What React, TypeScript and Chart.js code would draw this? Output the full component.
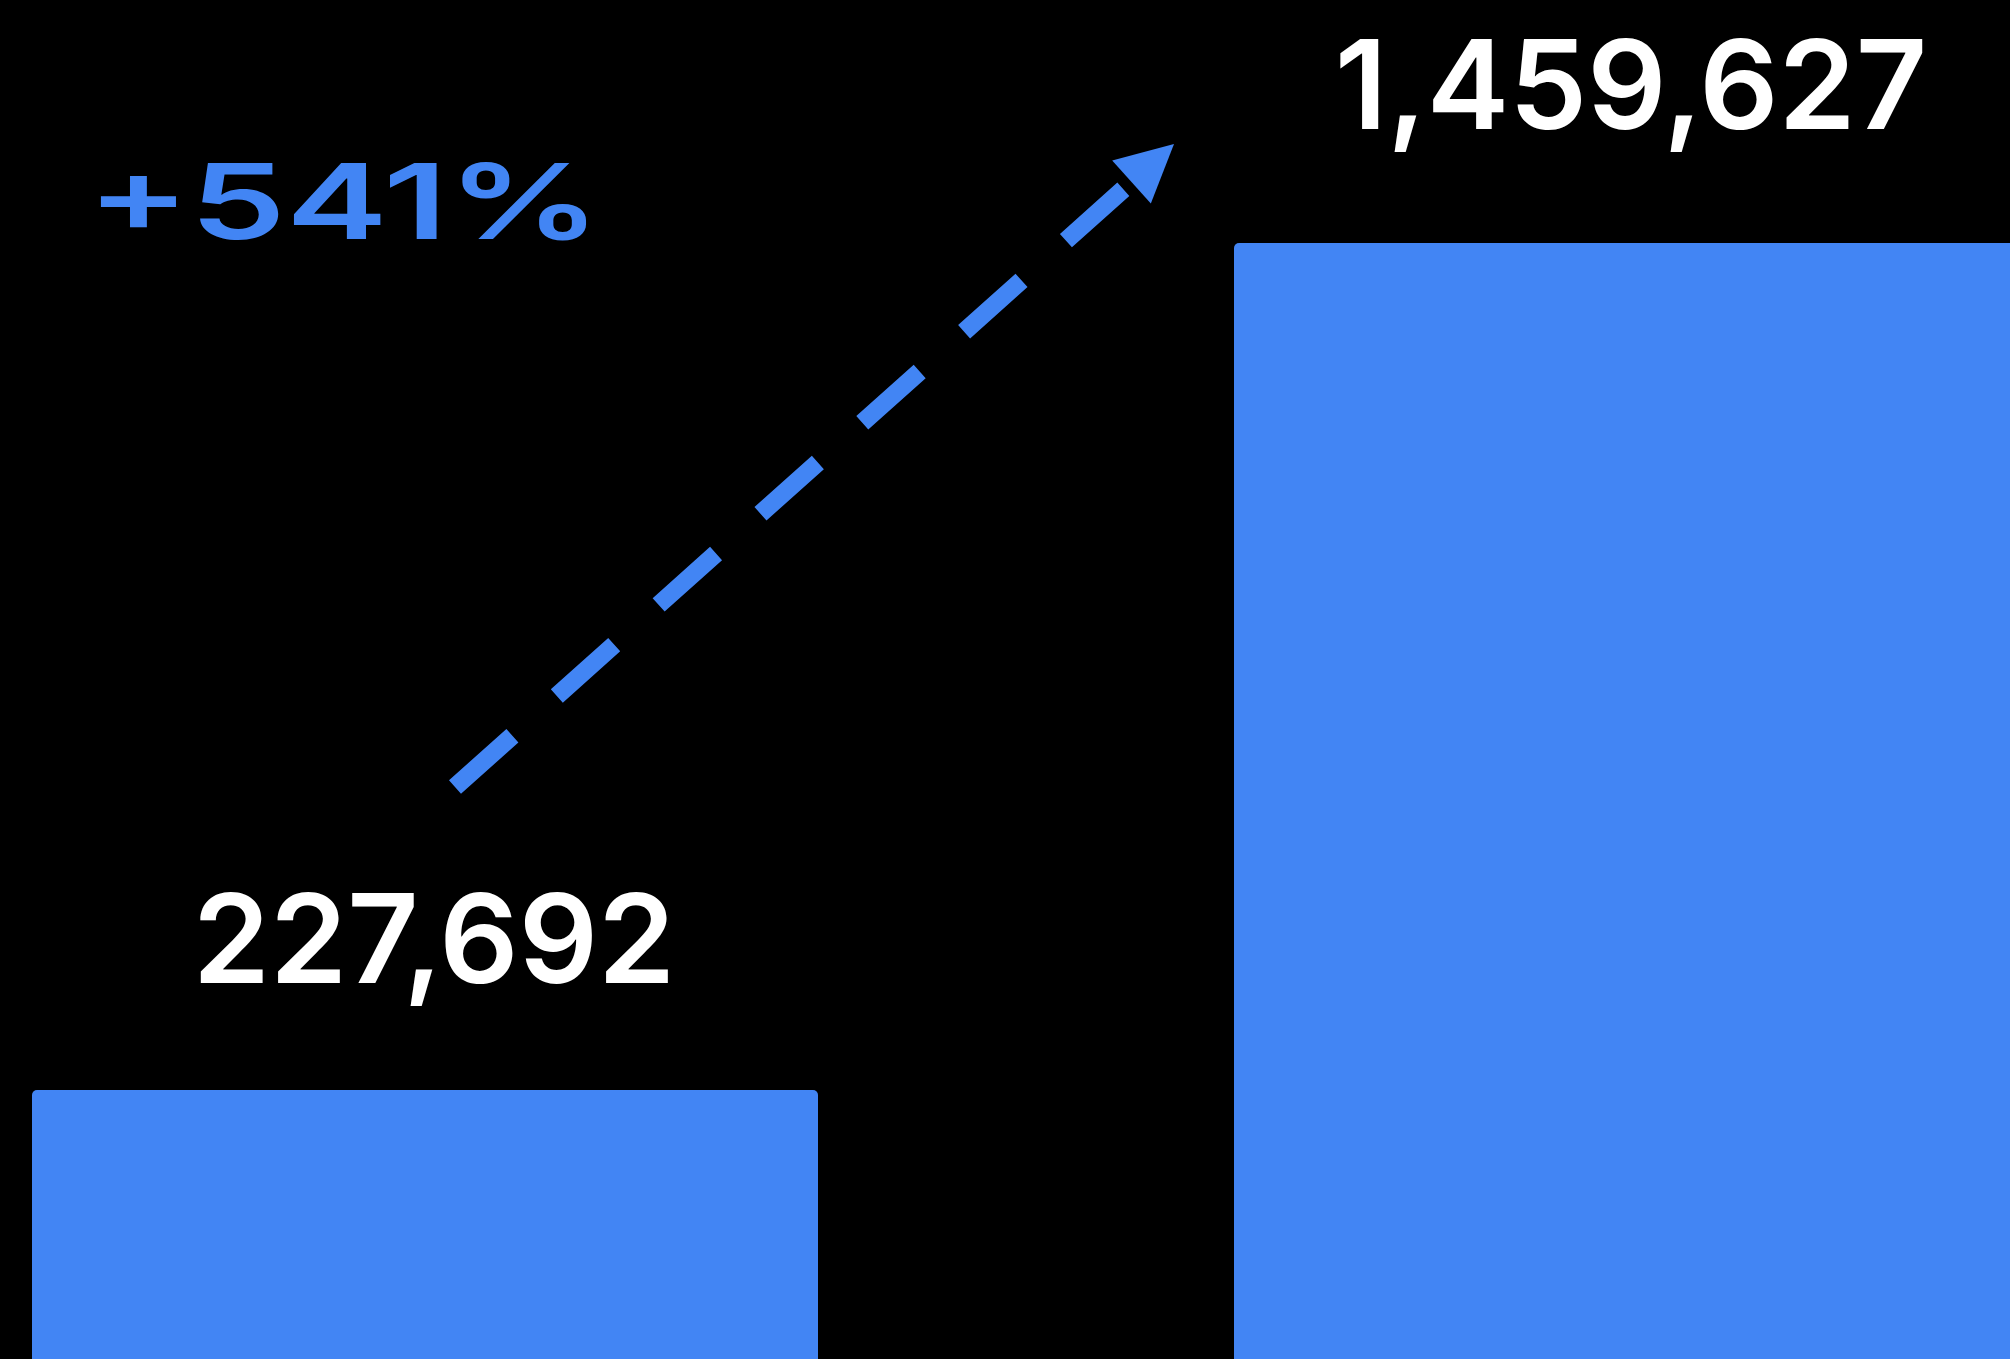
import React, { useEffect, useRef } from "react";
import { Chart, registerables } from "chart.js";

Chart.register(...registerables);

// ---- data ----
const categories = ["Before", "After"];
const values = [227692, 1459627];
const Y_MIN = -163564;
const Y_MAX = 1813076;

// ---- style ----
const BAR_COLOR = "#4285F4";
const BG = "#000000";
const FONT = "Inter, 'Noto Sans', sans-serif";
const LABEL_OFFSETS = [107, 114];
const LABEL_DX = [9, 4];

const overlayPlugin = {
  id: "overlay",
  afterDatasetsDraw(chart: any) {
    const ctx = chart.ctx as CanvasRenderingContext2D;
    const meta = chart.getDatasetMeta(0);
    const b0 = meta.data[0];
    const b1 = meta.data[1];
    ctx.save();

    // value labels
    ctx.fillStyle = "#ffffff";
    ctx.font = `600 124px ${FONT}`;
    ctx.textAlign = "center";
    ctx.textBaseline = "alphabetic";
    meta.data.forEach((bar: any, i: number) => {
      ctx.fillText(values[i].toLocaleString("en-US"), bar.x + LABEL_DX[i], bar.y - LABEL_OFFSETS[i]);
    });

    // percentage change (wide, heavy text)
    const pct = Math.round((values[1] / values[0] - 1) * 100);
    const pctText = `+${pct}%`;
    ctx.fillStyle = BAR_COLOR;
    ctx.font = `600 104px ${FONT}`;
    ctx.textAlign = "left";
    const w = ctx.measureText(pctText).width;
    const sx0 = 514 / w;
    ctx.save();
    ctx.translate(b0.x - 338, 239);
    ctx.scale(sx0, 1);
    ctx.fillText(pctText, 0, 0);
    ctx.restore();

    // dashed arrow
    const sx = b0.x + 30, sy = b0.y - 303;
    const tx = b1.x - 453, ty = b1.y - 99;
    const dx = tx - sx, dy = ty - sy;
    const len = Math.hypot(dx, dy);
    const ux = dx / len, uy = dy / len;
    const headLen = 57, headHalf = 29;
    const bx = tx - ux * headLen, by = ty - uy * headLen;
    ctx.strokeStyle = BAR_COLOR;
    ctx.lineWidth = 18;
    ctx.lineCap = "butt";
    ctx.setLineDash([77, 59.6]);
    ctx.beginPath();
    ctx.moveTo(sx, sy);
    ctx.lineTo(bx, by);
    ctx.stroke();
    ctx.setLineDash([]);
    ctx.beginPath();
    ctx.moveTo(tx, ty);
    ctx.lineTo(bx - uy * headHalf, by + ux * headHalf);
    ctx.lineTo(bx + uy * headHalf, by - ux * headHalf);
    ctx.closePath();
    ctx.fillStyle = BAR_COLOR;
    ctx.fill();

    ctx.restore();
  },
};

export default function App() {
  const ref = useRef<HTMLCanvasElement>(null);
  useEffect(() => {
    if (!ref.current) return;
    const chart = new Chart(ref.current, {
      type: "bar",
      data: {
        labels: categories,
        datasets: [
          {
            data: values,
            backgroundColor: BAR_COLOR,
            borderWidth: 0,
            borderRadius: { topLeft: 5, topRight: 5, bottomLeft: 0, bottomRight: 0 },
            base: Y_MIN,
            categoryPercentage: 1,
            barPercentage: 786 / 1202,
          } as any,
        ],
      },
      options: {
        responsive: false,
        animation: false,
        devicePixelRatio: 1,
        layout: { padding: 0 },
        plugins: { legend: { display: false }, tooltip: { enabled: false } },
        scales: {
          x: { display: false, offset: true, grid: { display: false } },
          y: { display: false, min: Y_MIN, max: Y_MAX, grid: { display: false } },
        },
      },
      plugins: [overlayPlugin],
    });
    return () => chart.destroy();
  }, []);

  return (
    <div
      style={{
        position: "fixed",
        top: 0,
        left: 0,
        width: 2010,
        height: 1359,
        overflow: "hidden",
        background: BG,
      }}
    >
      <canvas
        ref={ref}
        width={2404}
        height={1359}
        style={{ position: "absolute", left: -176, top: 0, width: 2404, height: 1359 }}
      />
    </div>
  );
}
